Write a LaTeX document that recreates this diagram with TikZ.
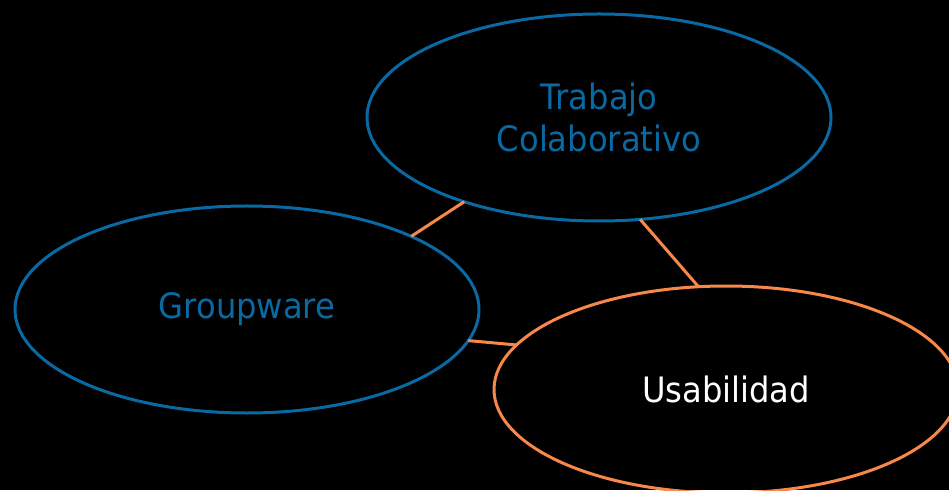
\documentclass[tikz,border=0pt]{standalone}
\usepackage{fontspec}
\setmainfont{DejaVu Sans}[FakeStretch=0.92]
\usepackage{tikz}
\usepackage{xcolor}
\usetikzlibrary{shapes.geometric}
\definecolor{BlueTC}{HTML}{0869A3}
\definecolor{OrangeTC}{HTML}{F7884A}
\newcommand\nodetc{Trabajo\\Colaborativo}
\newcommand\nodegw{Groupware}
\newcommand\nodeus{Usabilidad}
\tikzstyle{myellipse} = [ellipse, inner sep=0pt, outer sep=0pt, align=center, minimum width=464pt, minimum height=207pt, font=\fontsize{35}{42}\selectfont]
\tikzstyle{bn} = [myellipse, draw=BlueTC, text=BlueTC]
\tikzstyle{on} = [myellipse, draw=OrangeTC, text=white]
\tikzset{x=1pt, y=1pt}

\begin{document}
\begin{tikzpicture}[line width=3pt]
\fill[black] (0,0) rectangle (949,490);
\useasboundingbox (0,0) rectangle (949,490);
\clip (0,0) rectangle (949,490);
\node[bn] (tc) at (599, 372.5) {\nodetc};
\node[bn] (gw) at (247, 180.5) {\nodegw};
\node[on] (us) at (726, 100.5) {\nodeus};
\draw [OrangeTC] (tc.212.8) -- (gw.24.6);
\draw [OrangeTC] (gw.352) -- (us.168.6);
\draw [OrangeTC] (tc.292.8) -- (us.105.1);
\end{tikzpicture}
\end{document}
